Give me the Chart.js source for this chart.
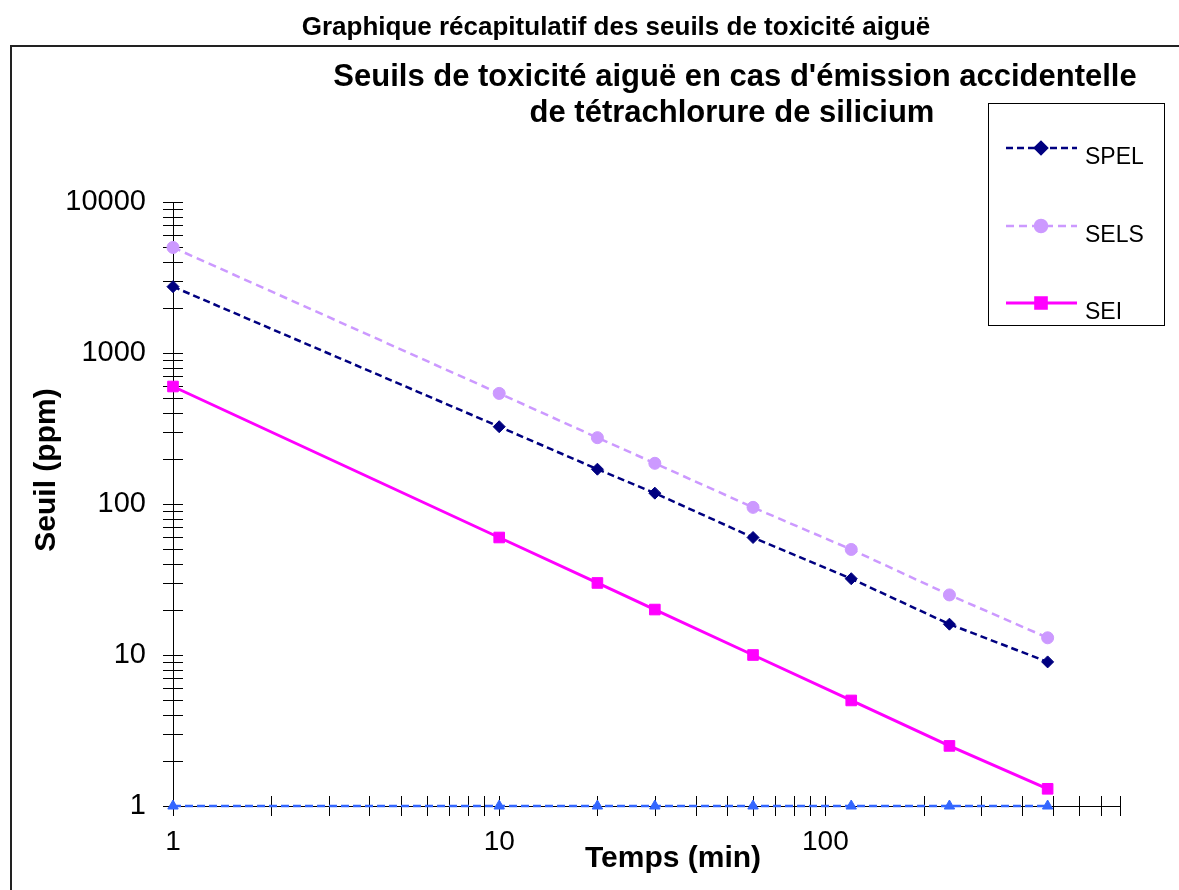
<!DOCTYPE html>
<html><head><meta charset="utf-8">
<script src="https://cdn.jsdelivr.net/npm/chart.js@4.4.0/dist/chart.umd.min.js"></script>
<style>html,body{margin:0;padding:0;background:#fff;} canvas{display:block;}</style>
</head><body>
<canvas id="c" width="1179" height="890"></canvas>
<script>
// ---- data ----
const times = [1, 10, 20, 30, 60, 120, 240, 480];
const spel = [2750, 325, 170, 118, 60, 32, 16, 9];
const sels = [5000, 540, 275, 186, 95, 50, 25, 13];
const sei = [600, 60, 30, 20, 10, 5, 2.5, 1.3];
const baseline = [1, 1, 1, 1, 1, 1, 1, 1];
const seriesNames = ['SPEL', 'SELS', 'SEI'];
const xTickValues = [1,2,3,4,5,6,7,8,9,10,20,30,40,50,60,70,80,90,100,200,300,400,500,600,700,800];
const yTickValues = [1,2,3,4,5,6,7,8,9,10,20,30,40,50,60,70,80,90,100,200,300,400,500,600,700,800,900,
  1000,2000,3000,4000,5000,6000,7000,8000,9000,10000];
const xTickLabels = [1, 10, 100];
const yTickLabels = [1, 10, 100, 1000, 10000];
const chartTitle = 'Graphique récapitulatif des seuils de toxicité aiguë';
const innerTitle = ["Seuils de toxicité aiguë en cas d'émission accidentelle", 'de tétrachlorure de silicium'];
const xTitle = 'Temps (min)';
const yTitle = 'Seuil (ppm)';

const FONT = "'Liberation Sans', Arial, sans-serif";

const styles = [
  {color: '#000080', dash: [7, 4], width: 2.5, point: 'rectRot', radius: 6},
  {color: '#CC99FF', dash: [8, 5], width: 2.5, point: 'circle', radius: 6},
  {color: '#FF00FF', dash: [], width: 3, point: 'rect', radius: 7.5}
];

function pts(arr) { return times.map((t, i) => ({x: t, y: arr[i]})); }

const datasets = [spel, sels, sei].map((arr, i) => ({
  label: seriesNames[i],
  data: pts(arr),
  borderColor: styles[i].color,
  backgroundColor: styles[i].color,
  borderWidth: styles[i].width,
  borderDash: styles[i].dash,
  pointStyle: styles[i].point,
  pointRadius: styles[i].radius,
  pointBorderWidth: 1,
  pointBackgroundColor: styles[i].color,
  pointBorderColor: styles[i].color,
  tension: 0,
  clip: false
}));
datasets.push({
  label: 'base',
  data: pts(baseline),
  borderColor: '#3366FF',
  backgroundColor: '#3366FF',
  borderWidth: 2.5,
  borderDash: [8, 4],
  pointStyle: 'triangle',
  pointRadius: 6,
  pointBorderWidth: 1,
  tension: 0,
  clip: false
});

const decor = {
  id: 'decor',
  beforeDraw(chart) {
    const ctx = chart.ctx;
    ctx.save();
    ctx.fillStyle = '#fff';
    ctx.fillRect(0, 0, chart.width, chart.height);
    ctx.restore();
  },
  beforeDatasetsDraw(chart) {
    const ctx = chart.ctx;
    const xs = chart.scales.x, ys = chart.scales.y;
    ctx.save();
    ctx.strokeStyle = '#000';
    ctx.lineWidth = 1;
    ctx.beginPath();
    xTickValues.forEach(v => {
      const px = Math.round(xs.getPixelForValue(v)) + 0.5;
      ctx.moveTo(px, ys.bottom - 10);
      ctx.lineTo(px, ys.bottom + 10);
    });
    yTickValues.forEach(v => {
      const py = Math.round(ys.getPixelForValue(v)) + 0.5;
      ctx.moveTo(xs.left - 10, py);
      ctx.lineTo(xs.left + 10, py);
    });
    ctx.stroke();
    ctx.restore();
  },
  afterDraw(chart) {
    const ctx = chart.ctx;
    ctx.save();
    // outer frame
    ctx.strokeStyle = '#222';
    ctx.lineWidth = 2;
    ctx.strokeRect(11, 46, 1200, 900);
    // chart title
    ctx.fillStyle = '#000';
    ctx.textAlign = 'center';
    ctx.textBaseline = 'middle';
    ctx.font = 'bold 26px ' + FONT;
    ctx.fillText(chartTitle, 616, 28);
    // inner title
    ctx.font = 'bold 31px ' + FONT;
    ctx.fillText(innerTitle[0], 735, 77);
    ctx.fillText(innerTitle[1], 732, 113);
    // axis titles
    ctx.font = 'bold 30px ' + FONT;
    ctx.fillText(xTitle, 673, 859);
    ctx.save();
    ctx.translate(47, 470);
    ctx.rotate(-Math.PI / 2);
    ctx.fillText(yTitle, 0, 0);
    ctx.restore();
    // legend box
    ctx.strokeStyle = '#000';
    ctx.lineWidth = 1;
    ctx.strokeRect(988.5, 103.5, 176, 222);
    const ly = [148, 226, 303];
    for (let i = 0; i < 3; i++) {
      const s = styles[i];
      ctx.save();
      ctx.strokeStyle = s.color;
      ctx.lineWidth = s.width;
      ctx.setLineDash(s.dash);
      ctx.beginPath();
      ctx.moveTo(1006, ly[i]);
      ctx.lineTo(1077, ly[i]);
      ctx.stroke();
      ctx.setLineDash([]);
      ctx.fillStyle = s.color;
      ctx.strokeStyle = s.color;
      Chart.helpers.drawPoint(ctx, {pointStyle: s.point, radius: s.radius, rotation: 0, borderWidth: 1}, 1041, ly[i]);
      ctx.restore();
      ctx.fillStyle = '#000';
      ctx.textAlign = 'left';
      ctx.font = '23px ' + FONT;
      ctx.fillText(seriesNames[i], 1085, ly[i] + 10);
    }
    ctx.restore();
  }
};

new Chart(document.getElementById('c'), {
  type: 'line',
  data: {datasets},
  plugins: [decor],
  options: {
    responsive: false,
    animation: false,
    layout: {padding: {top: 202, right: 59, bottom: 0, left: 0}},
    plugins: {legend: {display: false}, tooltip: {enabled: false}, title: {display: false}},
    scales: {
      x: {
        type: 'logarithmic',
        min: 1, max: 800,
        afterFit(s) { s.height = 84; },
        afterBuildTicks(s) { s.ticks = xTickValues.map(v => ({value: v})); },
        grid: {display: false, drawTicks: false},
        border: {display: true, color: '#000', width: 1},
        ticks: {
          autoSkip: false, maxRotation: 0, padding: 19,
          color: '#000', font: {family: FONT, size: 28},
          callback: (v) => xTickLabels.includes(v) ? String(v) : ''
        }
      },
      y: {
        type: 'logarithmic',
        min: 1, max: 10000,
        afterFit(s) { s.width = 173; },
        afterBuildTicks(s) { s.ticks = yTickValues.map(v => ({value: v})); },
        grid: {display: false, drawTicks: false},
        border: {display: true, color: '#000', width: 1},
        ticks: {
          autoSkip: false, padding: 27,
          color: '#000', font: {family: FONT, size: 29},
          callback: (v) => yTickLabels.includes(v) ? String(v) : ''
        }
      }
    }
  }
});
</script>
</body></html>
